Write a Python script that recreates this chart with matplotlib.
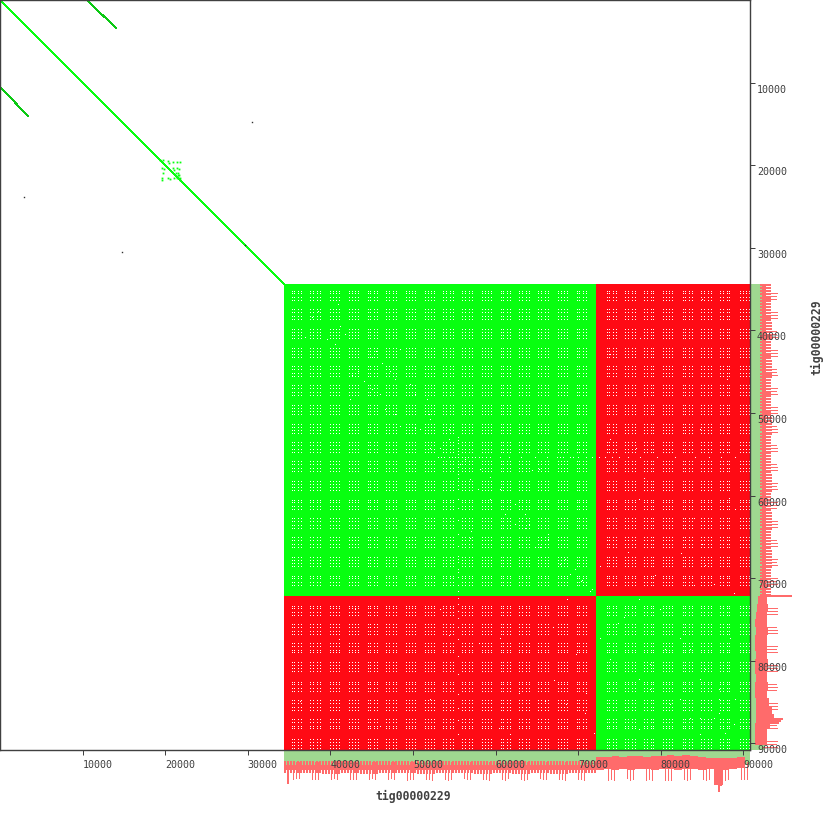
import numpy as np
import matplotlib
matplotlib.use("Agg")
import matplotlib.pyplot as plt
from matplotlib.transforms import ScaledTranslation

contig = "tig00000229"
contig_len = 90800
tick_vals = [10000, 20000, 30000, 40000, 50000, 60000, 70000, 80000, 90000]

# self hit blocks, (start, end)
diag_end = 34380
block_a = (34380, 72150)
block_b = (72150, 90800)

# side hits of the short repeat
side_x = [10530, 14040]
side_y = [0, 3400]
blob_x = [19370, 19695, 20380, 20500, 20905, 21470, 21790, 19575, 19855, 20905, 21065, 21470, 21710,
          19775, 21590, 21710, 19575, 19575, 20380, 20580, 21065, 21390, 21590, 21790, 21790, 21300, 21500]
blob_y = [19370, 19370, 19490, 19775, 19575, 19575, 19575, 20380, 20460, 20380, 20580, 20380, 20460,
          20985, 20985, 21190, 21510, 21790, 21590, 21710, 21590, 21590, 21390, 21510, 21790, 21000, 21200]
black_x = [30500, 2900, 14800, 29700]
black_y = [14800, 23900, 30500, 29700]

# gaps between tandem repeat hits
cluster_a = [35836, 38136, 40437, 42737, 45037, 47337, 49638, 51938, 54238, 56538, 58839, 61139,
             63439, 65739, 68040, 70340]
cluster_b = [73972, 76272, 78572, 80872, 83173, 85473, 87773, 90074]
cluster_dots = [-545, -182, 182, 545]
extra_x = [37530, 38480, 39570, 40530, 42590, 43320, 44040, 45010, 45980, 46580, 47800, 48400, 50220,
           50820, 52030, 53240, 55660, 56870, 57840, 59290, 61100, 62310, 63520, 64730, 66300, 67800,
           69000, 70300, 71400, 36900, 48400, 56870, 64400, 72600, 73900, 75600, 77400, 78700,
           80500, 82300, 84700, 86500, 87800, 77400, 81000, 89000, 87100, 85300, 36300, 41100, 60500,
           71000, 65500, 58000, 52000, 43000, 68500, 61800, 66900, 69700, 71900, 60400, 62800, 64000,
           66000, 67100, 68600, 70800, 53300, 54400, 46000]
extra_y = [38720, 37770, 41140, 41740, 45500, 45010, 46220, 47190, 47800, 49640, 50220, 51640, 51880,
           52030, 54400, 54400, 56260, 58080, 59290, 60500, 62310, 63520, 64000, 66300, 65400, 68400,
           69600, 70500, 71640, 40900, 42400, 65300, 57000, 77400, 79900, 74800, 82300, 83500,
           78700, 84700, 87100, 87100, 88900, 88400, 80300, 84700, 83500, 81100, 85000, 77500, 77400,
           84000, 81000, 78000, 84700, 73800, 85400, 89000, 76000, 79300, 88900, 88300, 84000, 76500,
           85000, 82500, 72700, 86500, 73800, 77000, 88000]
seam_pos = [53000, 53400, 53800, 54300, 54700, 55100, 55500, 55900, 56300, 56700, 57100, 57500, 58000,
            58400, 58800, 59300, 60500, 61600, 63100, 64800, 66200, 67400, 67800, 68200, 69000, 69400,
            70000, 71000, 71700, 72500, 73200, 74100, 75000, 76000, 77500, 79600, 81700, 84200, 85800,
            87300, 89000]
seam_at = 55450

# coverage rows under and beside the plot, depth is distance from the frame
teeth_a = [23, 23, 24, 23, 24, 23, 23, 24, 23, 23, 24, 23, 24, 23, 24, 23, 23]
bins_b = [72150, 73100, 74050, 75000, 75950, 76900, 77850, 78800, 79750, 80700, 81650, 82600, 83550,
          84500, 85450, 86400, 87050, 87550, 88300, 89200, 90200]
bot_top = [7, 7, 6, 7, 6, 6, 7, 6, 6, 5, 6, 5, 6, 7, 8, 8, 8, 8, 8, 7]
bot_end = [20, 19, 20, 19, 20, 19, 19, 20, 19, 19, 20, 19, 19, 20, 19, 35, 35, 20, 19, 18]
right_top = [8, 7, 6, 5, 6, 5, 5, 6, 5, 5, 6, 5, 5, 6, 6, 6, 6, 5, 5, 5]
right_end = [17, 18, 17, 17, 18, 17, 17, 17, 18, 17, 17, 18, 17, 19, 22, 24, 24, 20, 17, 17]
bot_long = [29, 28, 28, 29, 29, 29, 29, 28, 29, 29, 29, 29, 29, 28, 29, 29, 28, 29, 30, 29, 29, 29, 29, 30,
            29, 30, 29, 28, 29, 29, 29, 29, 30, 29, 30, 28, 29, 30, 29, 28, 29, 29, 29, 29, 30, 29, 29, 30,
            30, 29, 30, 28, 30, 29, 30, 29, 30, 30, 30, 30, 29, 30, 29, 29, 30, 29, 29, 30, 29, 29, 29, 29]
right_long = [27, 26, 26, 27, 27, 27, 26, 26, 27, 27, 27, 27, 26, 26, 27, 27, 26, 27, 27, 27, 27, 26, 27, 27,
              26, 27, 27, 26, 27, 27, 27, 26, 27, 27, 27, 26, 27, 27, 27, 26, 27, 27, 27, 26, 27, 27, 26, 27,
              27, 27, 27, 26, 27, 27, 27, 26, 27, 27, 27, 27, 26, 27, 26, 27, 27, 27, 27, 26, 27, 27, 26, 27]
long_offsets = [-400, 0, 400]
bot_spike_x = [34880, 87050, 87250]
bot_spike_d = [34, 42, 36]
right_spike_y = [72150, 87000, 87250, 87500]
right_spike_d = [42, 33, 31, 29]

GREEN = "#08ff10"
RED = "#ff0a14"
COV_GREEN = "#9fd890"
COV_RED = "#ff6b6b"
DARK = "#404040"
PX = 72 / 100


def px_box(left, top, w, h):
    return [left / 830, 1 - (top + h) / 830, w / 830, h / 830]


fig = plt.figure(figsize=(8.3, 8.3), dpi=100)
ax = fig.add_axes(px_box(0, 0, 750, 750), zorder=3)
bot = fig.add_axes(px_box(0, 750, 750, 80), zorder=1)
right = fig.add_axes(px_box(750, 0, 80, 750), zorder=1)

ax.set_xlim(0, contig_len)
ax.set_ylim(contig_len, 0)
bot.set_xlim(0, contig_len)
bot.set_ylim(80, 0)
right.set_ylim(contig_len, 0)
right.set_xlim(0, 80)
bot.axis("off")
right.axis("off")

# dot plot
ax.plot([0, diag_end], [0, diag_end], color=GREEN, lw=0.8, antialiased=False)
for a, b in [(side_x, side_y), (side_y, side_x)]:
    ax.plot(a, b, color="#0cc814", lw=0.55, antialiased=False)
ax.plot(blob_x, blob_y, ls="", marker="s", ms=1.3, mew=0, color=GREEN)
ax.plot(black_x, black_y, ls="", marker="s", ms=1.0, mew=0, color="#303030")

ax.fill_between(block_a, block_a[0], block_a[1], color=GREEN, lw=0)
ax.fill_between(block_b, block_b[0], block_b[1], color=GREEN, lw=0)
ax.fill_between(block_a, block_b[0], block_b[1], color=RED, lw=0)
ax.fill_between(block_b, block_a[0], block_a[1], color=RED, lw=0)

centres = np.array(cluster_a + cluster_b)
dots = (centres[:, None] + np.array(cluster_dots)[None, :]).ravel()
gx, gy = np.meshgrid(dots, dots)
ax.plot(gx.ravel(), gy.ravel(), ",", color="white")
ax.plot(extra_x + extra_y, extra_y + extra_x, ",", color="white")
ax.plot(seam_pos + [seam_at] * len(seam_pos), [seam_at] * len(seam_pos) + seam_pos, ",", color="white")

for s in ax.spines.values():
    s.set_color(DARK)
    s.set_linewidth(1.4 * PX)

ax.set_xticks(tick_vals)
ax.set_yticks(tick_vals)
ax.set_xticklabels([str(v) for v in tick_vals])
ax.set_yticklabels([str(v) for v in tick_vals])
ax.tick_params(axis="x", length=5 * PX, width=PX, color=DARK, labelcolor=DARK, pad=5 * PX,
               labelsize=7.2, labelfontfamily="DejaVu Sans Mono")
ax.tick_params(axis="y", left=False, labelleft=False, right=True, labelright=True, length=5 * PX, width=PX,
               color=DARK, labelcolor=DARK, pad=2 * PX, labelsize=7.2, labelfontfamily="DejaVu Sans Mono")
for lab in ax.get_xticklabels():
    lab.set_ha("left")
shift = ScaledTranslation(0, -6 / 100, fig.dpi_scale_trans)
for lab in ax.get_yticklabels():
    lab.set_transform(lab.get_transform() + shift)

# coverage, first repeat block
start, stop = block_a[0], contig_len
bot.fill_between([start, stop], 0, 15, color=COV_GREEN, lw=0)
right.fill_betweenx([start, stop], 0, 15, color=COV_GREEN, lw=0)

teeth_pos = np.arange(block_a[0] + 120, block_a[1], 383)
teeth_end = np.repeat(teeth_a, 6)[:len(teeth_pos)]
bot.vlines(teeth_pos, 11, teeth_end, color=COV_RED, lw=2 * PX, antialiased=False)
bot.fill_between(block_a, 15, 20, color=COV_RED, lw=0)
right.hlines(teeth_pos, 10, np.array(teeth_end) - 2, color=COV_RED, lw=2 * PX, antialiased=False)
right.fill_betweenx(block_a, 12, 16, color=COV_RED, lw=0)

# second block is nearly solid
bot.stairs(bot_end, bins_b, baseline=bot_top, fill=True, color=COV_RED, lw=0)
right.fill_betweenx(np.repeat(bins_b, 2)[1:-1], np.repeat(right_top, 2), np.repeat(right_end, 2),
                    color=COV_RED, lw=0)

long_pos = (centres[:, None] + np.array(long_offsets)[None, :]).ravel()
bot.vlines(long_pos, 12, bot_long, color=COV_RED, lw=PX, antialiased=False)
right.hlines(long_pos, 12, right_long, color=COV_RED, lw=PX, antialiased=False)
bot.vlines(bot_spike_x, 12, bot_spike_d, color=COV_RED, lw=1.5 * PX, antialiased=False)
right.hlines(right_spike_y, 12, right_spike_d, color=COV_RED, lw=1.5 * PX, antialiased=False)

fig.text(413 / 830, 1 - 796.5 / 830, contig, family="DejaVu Sans Mono", weight="bold", size=8.3,
         color=DARK, ha="center", va="center")
fig.text(817 / 830, 1 - 337 / 830, contig, family="DejaVu Sans Mono", weight="bold", size=8.3,
         color=DARK, ha="center", va="center", rotation=90)

fig.savefig("out.png", dpi=100, facecolor="white")
